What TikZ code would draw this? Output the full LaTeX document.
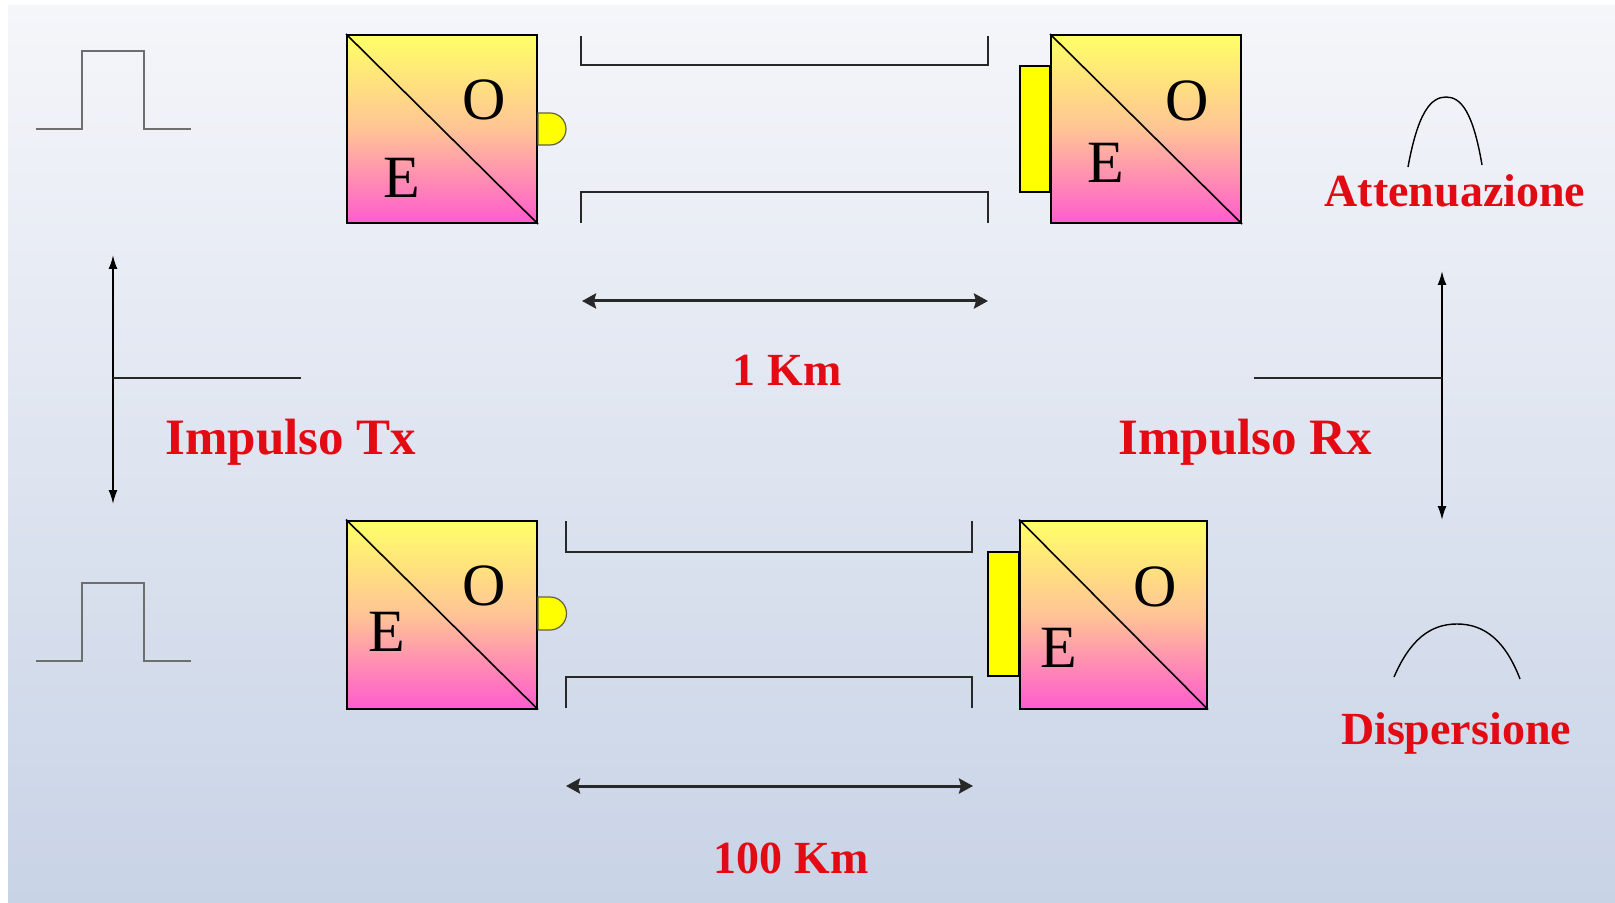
\documentclass[tikz,border=0pt]{standalone}
\usepackage{fontspec}
\setmainfont{Liberation Serif}
\usetikzlibrary{arrows.meta}
\definecolor{bgtop}{RGB}{245,246,250}
\definecolor{bgbot}{RGB}{200,211,230}
\definecolor{blktop}{RGB}{255,255,102}
\definecolor{blkmid}{RGB}{255,196,150}
\definecolor{blkbot}{RGB}{255,92,205}
\definecolor{ledyel}{RGB}{255,255,0}
\definecolor{labred}{RGB}{228,10,20}
\definecolor{pulsegray}{RGB}{110,110,110}
\definecolor{linedark}{RGB}{40,40,40}
\tikzset{
  eoblock/.style={draw=black, line width=1pt, top color=blktop, bottom color=blkbot, middle color=blkmid,
    minimum width=95pt, minimum height=94pt, inner sep=0pt},
  eoletter/.style={inner sep=0pt, font=\fontsize{30}{36}\selectfont},
  redlab/.style={inner sep=0pt, text=labred, font=\bfseries\fontsize{23}{27}\selectfont},
  biglab/.style={inner sep=0pt, text=labred, font=\bfseries\fontsize{25.5}{30}\selectfont},
  pulseline/.style={draw=pulsegray, line width=1.2pt},
  fiberline/.style={draw=linedark, line width=1pt},
  ledbump/.style={fill=ledyel, draw=black!70!yellow, line width=0.6pt},
  ledrect/.style={fill=ledyel, draw=black, line width=0.6pt},
  shapearc/.style={draw=black, line width=0.7pt},
  varrow/.style={draw=black, line width=0.9pt, {Latex[length=7pt,width=4.5pt]}-{Latex[length=7pt,width=4.5pt]}},
  dimarrow/.style={draw=linedark, line width=1.5pt, {Stealth[length=7pt,width=7.5pt,inset=1pt]}-{Stealth[length=7pt,width=7.5pt,inset=1pt]}},
  stubline/.style={draw=linedark, line width=1pt}
}
\begin{document}
\begin{tikzpicture}[x=0.5pt,y=-0.5pt]
\useasboundingbox (0,0) rectangle (1615,903);
\fill[white] (0,0) rectangle (1615,903);
\shade[top color=bgtop, bottom color=bgbot] (8,6) rectangle (1615,903);

% ---------- top row (1 Km) ----------
\draw[pulseline] (36,129) -- (82,129) -- (82,51) -- (144,51) -- (144,129) -- (191,129);

\node[eoblock] (tx1) at (442,129) {};
\draw[line width=0.8pt] (tx1.north west) -- (tx1.south east);
\node[eoletter] (tx1o) at (484,100) {O};
\node[eoletter] (tx1e) at (402,178) {E};
\draw[ledbump] (tx1.east |- 0,113) -- (550,113) arc[start angle=90, end angle=-90, radius=8pt] -- (tx1.east |- 0,145) -- cycle;

\draw[fiberline] (581,36) -- (581,65) -- (988,65) -- (988,36);
\draw[fiberline] (581,223) -- (581,192) -- (988,192) -- (988,223);

\node[eoblock] (rx1) at (1146,129) {};
\draw[line width=0.8pt] (rx1.north west) -- (rx1.south east);
\node[eoletter] (rx1o) at (1187,101) {O};
\node[eoletter] (rx1e) at (1106,163) {E};
\draw[ledrect] (1020,66) rectangle (rx1.west |- 0,192);

\coordinate (d1a) at (582,301);
\coordinate (d1b) at (988,301);
\draw[dimarrow] (d1a) -- (d1b);
\node[redlab, anchor=base] (km1) at (787,386) {1 Km};

% Attenuazione
\draw[shapearc] (1408,167) .. controls (1418,112) and (1431,97) .. (1446,97) .. controls (1461,97) and (1473,112) .. (1482,165);
\node[redlab, anchor=base] (att) at (1455,207) {Attenuazione};

% ---------- middle ----------
\coordinate (lt) at (113,255);
\coordinate (lb) at (113,504);
\coordinate (lm) at (113,378);
\coordinate (ls) at (301,378);
\draw[varrow] (lt) -- (lb);
\draw[stubline] (lm) -- (ls);
\node[biglab, anchor=base west] (itx) at (165,454) {Impulso Tx};

\coordinate (rt) at (1442,271);
\coordinate (rb) at (1442,520);
\coordinate (rm) at (1442,378);
\coordinate (rs) at (1254,378);
\draw[varrow] (rt) -- (rb);
\draw[stubline] (rs) -- (rm);
\node[biglab, anchor=base west] (irx) at (1118,454) {Impulso Rx};

% ---------- bottom row (100 Km) ----------
\draw[pulseline] (36,661) -- (82,661) -- (82,583) -- (144,583) -- (144,661) -- (191,661);

\node[eoblock] (tx2) at (442,614.5) {};
\draw[line width=0.8pt] (tx2.north west) -- (tx2.south east);
\node[eoletter] (tx2o) at (484,586) {O};
\node[eoletter] (tx2e) at (387,632) {E};
\draw[ledbump] (tx2.east |- 0,597) -- (550,597) arc[start angle=90, end angle=-90, radius=8.25pt] -- (tx2.east |- 0,630) -- cycle;

\draw[fiberline] (566,521) -- (566,552) -- (972,552) -- (972,521);
\draw[fiberline] (566,708) -- (566,677) -- (972,677) -- (972,708);

\node[eoblock, minimum width=93.5pt] (rx2) at (1113.5,614.5) {};
\draw[line width=0.8pt] (rx2.north west) -- (rx2.south east);
\node[eoletter] (rx2o) at (1155,587) {O};
\node[eoletter] (rx2e) at (1059,648) {E};
\draw[ledrect] (988,552) rectangle (rx2.west |- 0,676);

\coordinate (d2a) at (566,786);
\coordinate (d2b) at (973,786);
\draw[dimarrow] (d2a) -- (d2b);
\node[redlab, anchor=base] (km2) at (791,873) {100 Km};

% Dispersione
\draw[shapearc] (1394,677) .. controls (1410,640) and (1430,624) .. (1457,624) .. controls (1484,624) and (1505,640) .. (1520,679);
\node[redlab, anchor=base] (disp) at (1456,744) {Dispersione};
\end{tikzpicture}
\end{document}
